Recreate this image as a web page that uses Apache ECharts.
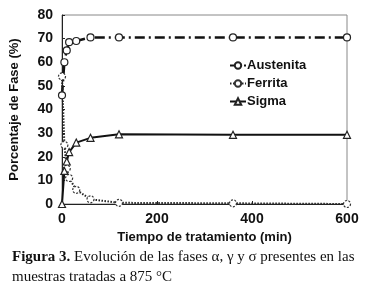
<!DOCTYPE html>
<html>
<head>
<meta charset="utf-8">
<script src="https://cdn.jsdelivr.net/npm/echarts@6/dist/echarts.min.js"></script>
<style>
  html, body { margin: 0; padding: 0; background: #fff; }
  #chart { width: 367px; height: 286px; }
</style>
</head>
<body>
<div id="chart"></div>
<script>
// tiempos de tratamiento (min)
const tiempos = [0, 5, 10, 15, 30, 60, 120, 360, 600];
const austenita = [46, 60, 65, 68.5, 69, 70.5, 70.5, 70.5, 70.5];
const ferrita = [54, 25, 15, 11, 6, 2, 0.5, 0.3, 0];
const sigma = [0, 14, 18, 22, 26, 28, 29.5, 29.3, 29.3];
const yTicks = [0, 10, 20, 30, 40, 50, 60, 70, 80];
const xTicks = [0, 200, 400, 600];

const pares = (ys) => tiempos.map((t, i) => [t, ys[i]]);

const chart = echarts.init(document.getElementById('chart'));
const fuente = '"Liberation Sans", Arial, sans-serif';

let option = {
  animation: false,
  backgroundColor: '#fff',
  grid: {
    left: 61,
    right: 20,
    top: 15,
    bottom: 82,
    show: true,
    borderColor: '#888',
    borderWidth: 1
  },
  legend: {
    orient: 'vertical',
    left: 224,
    top: 54,
    itemGap: 5,
    itemWidth: 16,
    itemHeight: 8,
    data: ['Austenita', 'Ferrita', 'Sigma'],
    textStyle: { fontFamily: fuente, fontWeight: 'bold', fontSize: 13, color: '#111', padding: [0, 0, 0, -4] }
  },
  xAxis: {
    type: 'value',
    min: xTicks[0],
    max: xTicks[xTicks.length - 1],
    interval: 200,
    name: 'Tiempo de tratamiento (min)',
    nameLocation: 'middle',
    nameGap: 27,
    nameTextStyle: { fontFamily: fuente, fontWeight: 'bold', fontSize: 13, color: '#111' },
    axisLine: { lineStyle: { color: '#222', width: 1 } },
    axisTick: { inside: true, length: 3, lineStyle: { color: '#222' } },
    axisLabel: { fontFamily: fuente, fontWeight: 'bold', fontSize: 14, color: '#111', margin: 8 },
    splitLine: { show: false }
  },
  yAxis: {
    type: 'value',
    min: yTicks[0],
    max: yTicks[yTicks.length - 1],
    interval: 10,
    name: 'Porcentaje de Fase (%)',
    nameLocation: 'middle',
    nameGap: 41,
    nameTextStyle: { fontFamily: fuente, fontWeight: 'bold', fontSize: 13, color: '#111' },
    axisLine: { show: true, lineStyle: { color: '#222', width: 1 } },
    axisTick: { show: true, inside: true, length: 3, lineStyle: { color: '#222' } },
    axisLabel: { fontFamily: fuente, fontWeight: 'bold', fontSize: 14, color: '#111', margin: 9 },
    splitLine: { show: false }
  },
  graphic: [
    {
      type: 'text',
      left: 12,
      top: 247,
      style: {
        text: '{b|Figura 3.} Evolución de las fases α, γ y σ presentes en las\nmuestras tratadas a 875 °C',
        font: '15px "Liberation Serif", "Times New Roman", serif',
        fill: '#111',
        lineHeight: 20,
        rich: {
          b: { fontFamily: '"Liberation Serif", serif', fontWeight: 'bold', fontSize: 15, fill: '#111' }
        }
      }
    }
  ],
  series: [
    {
      name: 'Austenita',
      type: 'line',
      data: pares(austenita),
      symbol: 'circle',
      symbolSize: 7,
      color: '#111',
      lineStyle: { color: '#111', width: 2.5, type: [10, 4, 2, 4] },
      itemStyle: { color: '#fff', borderColor: '#222', borderWidth: 1.2 }
    },
    {
      name: 'Ferrita',
      type: 'line',
      data: pares(ferrita),
      symbol: 'circle',
      symbolSize: 7,
      color: '#111',
      lineStyle: { color: '#222', width: 2, type: [1.5, 1.5] },
      itemStyle: { color: '#fff', borderColor: '#333', borderWidth: 1.2, borderType: [2, 1.5] }
    },
    {
      name: 'Sigma',
      type: 'line',
      data: pares(sigma),
      symbol: 'triangle',
      symbolSize: 7,
      color: '#111',
      lineStyle: { color: '#111', width: 2 },
      itemStyle: { color: '#fff', borderColor: '#222', borderWidth: 1.2 }
    }
  ]
};

chart.setOption(option);
</script>
</body>
</html>
